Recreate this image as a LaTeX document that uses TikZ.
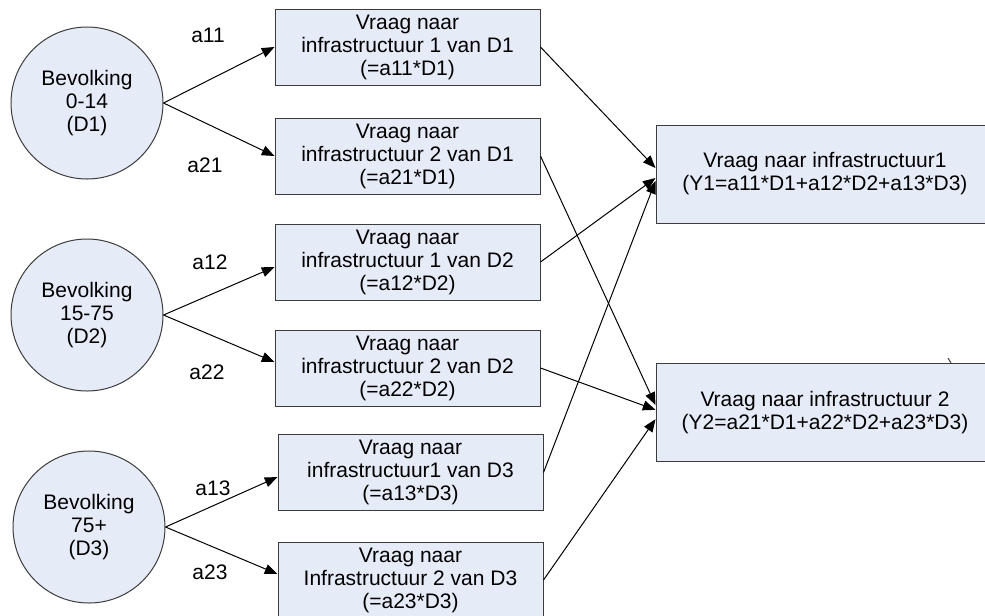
\documentclass[tikz,border=0pt]{standalone}
\usepackage{fontspec}
\setmainfont{Liberation Sans}
\usepackage{tikz}
\usetikzlibrary{arrows.meta}
\definecolor{vulling}{RGB}{230,236,247}
\definecolor{rand}{RGB}{60,60,60}

\begin{document}
\begin{tikzpicture}[x=0.75pt,y=-0.75pt,line width=0.75pt,
  font=\fontsize{15.75pt}{17.25pt}\selectfont,
  groep/.style={draw=rand, fill=vulling, circle, minimum size=114pt, inner sep=0pt, align=center},
  vraag/.style={draw=rand, fill=vulling, rectangle, minimum width=198.75pt, minimum height=57pt, inner sep=0pt, align=center},
  totaal/.style={draw=rand, fill=vulling, rectangle, minimum width=253.5pt, minimum height=73.5pt, inner sep=0pt, align=center},
  pijl/.style={draw=black, -{Triangle[length=9.5pt,width=7.5pt]}}]

\useasboundingbox (0,0) rectangle (985,615);

\node[groep] (D1) at (87,103) {Bevolking\\0-14\\(D1)};
\node[groep] (D2) at (87,315) {Bevolking\\15-75\\(D2)};
\node[groep] (D3) at (89,527) {Bevolking\\75+\\(D3)};

\node[vraag] (v11) at (407.5,47)  {Vraag naar\\infrastructuur 1 van D1\\(=a11*D1)};
\node[vraag] (v21) at (407.5,156) {Vraag naar\\infrastructuur 2 van D1\\(=a21*D1)};
\node[vraag] (v12) at (407.5,262) {Vraag naar\\infrastructuur 1 van D2\\(=a12*D2)};
\node[vraag] (v22) at (407.5,368) {Vraag naar\\infrastructuur 2 van D2\\(=a22*D2)};
\node[vraag] (v13) at (410.5,472.5) {Vraag naar\\infrastructuur1 van D3\\(=a13*D3)};
\node[vraag] (v23) at (410.5,580) {Vraag naar\\Infrastructuur 2 van D3\\(=a23*D3)};

\node[totaal] (Y1) at (825,174)   {Vraag naar infrastructuur1\\(Y1=a11*D1+a12*D2+a13*D3)};
\node[totaal] (Y2) at (825,412.5) {Vraag naar infrastructuur 2\\(Y2=a21*D1+a22*D2+a23*D3)};

\node (l11) at (208,35)  {a11};
\node (l21) at (205,165) {a21};
\node (l12) at (210,262) {a12};
\node (l22) at (207,372) {a22};
\node (l13) at (213,488) {a13};
\node (l23) at (210,572) {a23};

\draw[pijl] (D1.east) -- (v11.west);
\draw[pijl] (D1.east) -- (v21.west);
\draw[pijl] (D2.east) -- ([yshift=-3.75pt]v12.west);
\draw[pijl] (D2.east) -- ([yshift=4.5pt]v22.west);
\draw[pijl] (D3.east) -- ([yshift=-3.4pt]v13.west);
\draw[pijl] (D3.east) -- ([yshift=4.5pt]v23.west);

\draw[pijl] (v11.east) -- ([yshift=4.5pt]Y1.west);
\draw[pijl] (v12.east) -- ([yshift=-3pt]Y1.west);
\draw[pijl] (v13.east) -- ([yshift=-5.25pt]Y1.west);
\draw[pijl] (v21.east) -- ([yshift=5.6pt]Y2.west);
\draw[pijl] (v22.east) -- ([yshift=2pt]Y2.west);
\draw[pijl] (v23.east) -- ([yshift=-5pt]Y2.west);

\draw[rand] (948,358) -- (951,363);

\end{tikzpicture}
\end{document}
